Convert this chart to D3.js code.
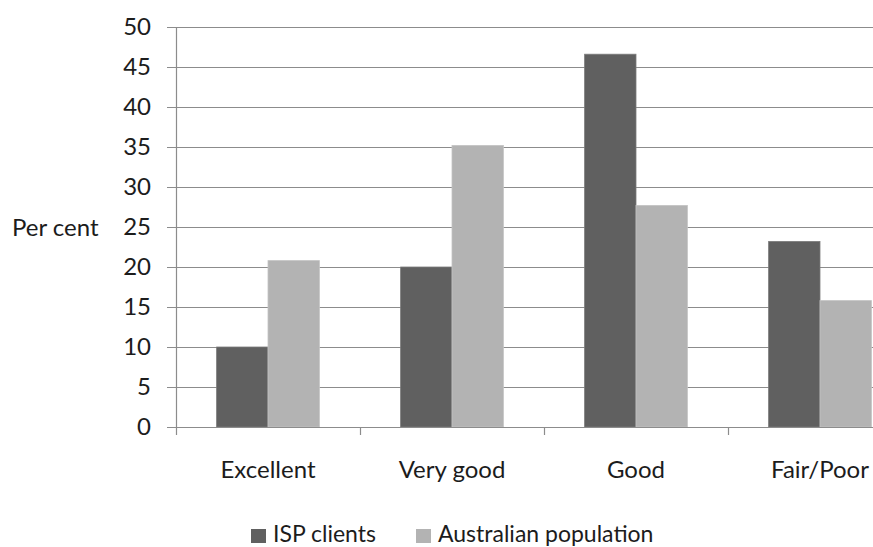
<!DOCTYPE html>
<html>
<head>
<meta charset="utf-8">
<script src="https://cdn.jsdelivr.net/npm/d3@7"></script>
<style>
  html, body { margin: 0; padding: 0; background: #fff; overflow: hidden; }
  svg { display: block; font-family: Lato, "Open Sans", sans-serif; }
</style>
</head>
<body>
<svg id="chart" width="873" height="547"></svg>
<script>
// Self-assessed health status, per cent
const categories = ["Excellent", "Very good", "Good", "Fair/Poor"];
const seriesNames = ["ISP clients", "Australian population"];
const ispClients = [10.0, 20.0, 46.6, 23.2];
const australianPopulation = [20.8, 35.2, 27.7, 15.8];
const yTicks = [0, 5, 10, 15, 20, 25, 30, 35, 40, 45, 50];
const yLabel = "Per cent";

const colors = ["#606060", "#b3b3b3"];
const strokes = ["#7c7c7c", "#c4c4c4"];
const gridColor = "#8c8c8c";
const textColor = "#1c1c1c";

const svg = d3.select("#chart");

const x0 = d3.scaleBand().domain(categories).range([176, 912]).paddingInner(0).paddingOuter(0);
const x1 = d3.scaleBand().domain(seriesNames).range([0, x0.bandwidth()]).paddingInner(0).paddingOuter(0.79);
const y = d3.scaleLinear().domain([0, 50]).range([427, 27]);

const rows = categories.map((c, i) => ({ category: c, values: [ispClients[i], australianPopulation[i]] }));

// horizontal gridlines with left tick marks
svg.append("g")
  .selectAll("line")
  .data(yTicks)
  .join("line")
  .attr("x1", 167).attr("x2", 912)
  .attr("y1", d => Math.round(y(d)) + 0.5).attr("y2", d => Math.round(y(d)) + 0.5)
  .attr("stroke", gridColor).attr("stroke-width", 1.2);

// y tick labels
svg.append("g")
  .selectAll("text")
  .data(yTicks)
  .join("text")
  .attr("x", 151).attr("y", d => y(d))
  .attr("dy", "0.35em")
  .attr("text-anchor", "end")
  .attr("fill", textColor)
  .attr("font-size", 24)
  .text(d => d);

// bars
const groups = svg.append("g")
  .selectAll("g")
  .data(rows)
  .join("g")
  .attr("transform", d => `translate(${x0(d.category)},0)`);

groups.selectAll("rect")
  .data(d => d.values.map((v, i) => ({ name: seriesNames[i], value: v, i })))
  .join("rect")
  .attr("x", d => x1(d.name))
  .attr("width", x1.bandwidth())
  .attr("y", d => y(d.value))
  .attr("height", d => y(0) - y(d.value))
  .attr("fill", d => colors[d.i])
  .attr("stroke", d => strokes[d.i])
  .attr("stroke-width", 0.8);

// axes lines
svg.append("line")
  .attr("x1", 176.5).attr("x2", 176.5).attr("y1", 27).attr("y2", 435)
  .attr("stroke", gridColor).attr("stroke-width", 1.2);
svg.append("line")
  .attr("x1", 167).attr("x2", 912).attr("y1", 427.5).attr("y2", 427.5)
  .attr("stroke", gridColor).attr("stroke-width", 1.2);

// category boundary ticks
svg.append("g")
  .selectAll("line")
  .data(categories.slice(1))
  .join("line")
  .attr("x1", d => Math.round(x0(d)) + 0.5).attr("x2", d => Math.round(x0(d)) + 0.5)
  .attr("y1", 427).attr("y2", 435)
  .attr("stroke", gridColor).attr("stroke-width", 1.2);

// category labels
svg.append("g")
  .selectAll("text")
  .data(categories)
  .join("text")
  .attr("x", d => x0(d) + x0.bandwidth() / 2)
  .attr("y", 477.5)
  .attr("text-anchor", "middle")
  .attr("fill", textColor)
  .attr("font-size", 24)
  .text(d => d);

// y axis title
svg.append("text")
  .attr("x", 12).attr("y", 236)
  .attr("fill", textColor)
  .attr("font-size", 24)
  .text(yLabel);

// legend
const legendX = [251, 416];
const legend = svg.append("g")
  .selectAll("g")
  .data(seriesNames)
  .join("g")
  .attr("transform", (d, i) => `translate(${legendX[i]},529)`);
legend.append("rect")
  .attr("width", 15).attr("height", 14)
  .attr("fill", (d, i) => colors[i]);
legend.append("text")
  .attr("x", 22).attr("y", 13)
  .attr("fill", textColor)
  .attr("font-size", 23)
  .text(d => d);
</script>
</body>
</html>
